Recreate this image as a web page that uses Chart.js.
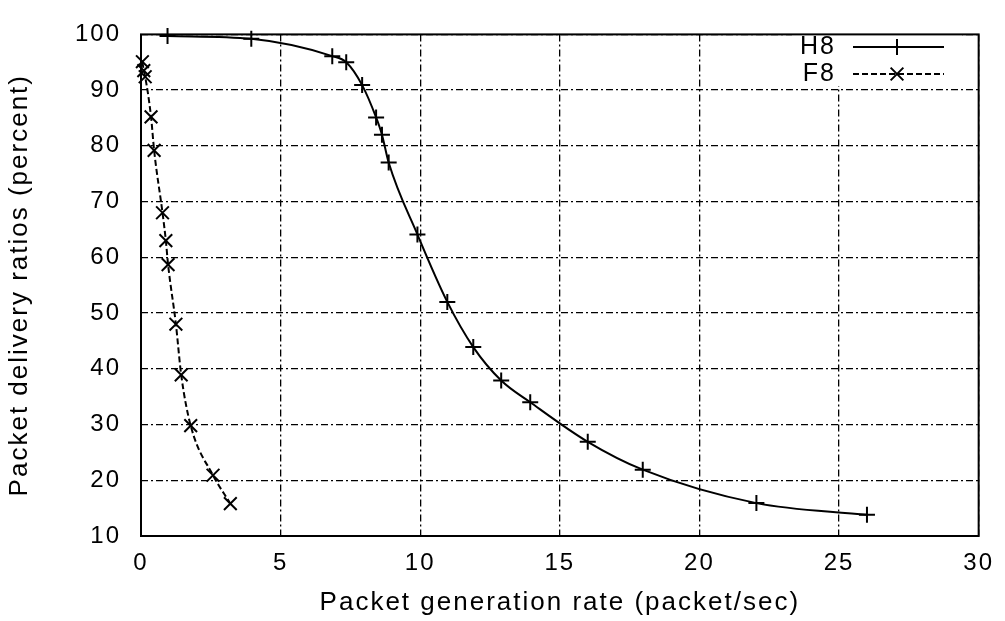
<!DOCTYPE html>
<html>
<head>
  <script src="https://cdn.jsdelivr.net/npm/chart.js"></script>
  <style>
    html, body { margin: 0; padding: 0; background: #fff; }
    #wrap { width: 1005px; height: 621px; }
  </style>
</head>
<body>
  <div id="wrap"><canvas id="myChart"></canvas></div>

  <script>
    // H8 series (packet/sec -> percent)
    const h8Rate = [0.95, 3.95, 6.85, 7.35, 7.92, 8.42, 8.63, 8.87, 9.9, 10.97, 11.9, 12.9, 13.94, 16.0, 17.97, 22.04, 26.0];
    const h8Ratio = [99.7, 99.2, 96.1, 95.0, 90.9, 85.1, 82.0, 77.0, 64.1, 52.0, 43.9, 37.9, 34.0, 26.9, 21.9, 15.9, 13.8];

    // F8 series
    const f8Rate = [0.05, 0.1, 0.15, 0.36, 0.47, 0.77, 0.89, 0.97, 1.25, 1.44, 1.78, 2.58, 3.2];
    const f8Ratio = [95.1, 93.5, 92.4, 85.2, 79.2, 68.0, 63.0, 58.7, 48.0, 38.9, 29.8, 20.9, 15.8];

    const seriesNames = ['H8', 'F8'];
    const xTitle = 'Packet generation rate (packet/sec)';
    const yTitle = 'Packet delivery ratios (percent)';

    const FONT = '"Liberation Sans", Arial, sans-serif';

    const toPoints = (xs, ys) => xs.map((x, i) => ({ x: x, y: ys[i] }));

    // розріджений шрифт, як на скані
    const spacing = {
      id: 'spacing',
      beforeDraw(chart) { chart.ctx.letterSpacing = '2px'; }
    };

    // рамка навколо області графіка
    const frameBox = {
      id: 'frameBox',
      afterDatasetsDraw(chart) {
        const a = chart.chartArea, ctx = chart.ctx;
        ctx.save();
        ctx.strokeStyle = '#000';
        ctx.lineWidth = 2;
        ctx.strokeRect(a.left, a.top, a.right - a.left, a.bottom - a.top);
        ctx.restore();
      }
    };

    // легенда як у gnuplot: текст праворуч вирівняний, зразок лінії справа
    const gnuLegend = {
      id: 'gnuLegend',
      beforeDatasetsDraw(chart) {
        const ctx = chart.ctx;
        ctx.save();
        ctx.fillStyle = '#fff';
        ctx.fillRect(792, 28, 170, 58);
        ctx.restore();
      },
      afterDraw(chart) {
        const ctx = chart.ctx;
        const rows = [47, 74];
        ctx.save();
        chart.data.datasets.forEach((ds, i) => {
          const y = rows[i];
          ctx.fillStyle = '#000';
          ctx.font = '25px ' + FONT;
          ctx.textAlign = 'right';
          ctx.textBaseline = 'middle';
          ctx.fillText(ds.label, 836, y);
          ctx.strokeStyle = '#000';
          ctx.lineWidth = ds.borderWidth;
          ctx.setLineDash(ds.borderDash || []);
          ctx.beginPath();
          ctx.moveTo(853, y);
          ctx.lineTo(944, y);
          ctx.stroke();
          ctx.setLineDash([]);
          Chart.helpers.drawPoint(ctx, {
            pointStyle: ds.pointStyle, rotation: 0, radius: ds.pointRadius, borderWidth: 2
          }, 897, y);
        });
        ctx.restore();
      }
    };

    const ctx = document.getElementById('myChart').getContext('2d');
    new Chart(ctx, {
      type: 'line',
      data: {
        datasets: [{
          label: seriesNames[0],
          data: toPoints(h8Rate, h8Ratio),
          borderColor: '#000',
          backgroundColor: '#000',
          borderWidth: 2,
          pointStyle: 'cross',
          pointRadius: 8,
          pointBorderWidth: 2,
          cubicInterpolationMode: 'monotone',
          clip: false
        }, {
          label: seriesNames[1],
          data: toPoints(f8Rate, f8Ratio),
          borderColor: '#000',
          backgroundColor: '#000',
          borderWidth: 2,
          borderDash: [6, 3],
          pointStyle: 'crossRot',
          pointRadius: 9,
          pointBorderWidth: 2,
          cubicInterpolationMode: 'monotone',
          clip: false
        }]
      },
      options: {
        responsive: true,
        maintainAspectRatio: false,
        animation: false,
        layout: { padding: { top: 25, right: 19, left: 0, bottom: 0 } },
        plugins: {
          legend: { display: false },
          tooltip: { enabled: false }
        },
        scales: {
          x: {
            type: 'linear',
            min: 0, max: 30,
            ticks: { stepSize: 5, color: '#000', font: { family: FONT, size: 24 }, padding: 13 },
            grid: { color: '#000', lineWidth: 1.3, tickLength: 0 },
            border: { display: false, dash: [7, 3, 2, 3] },
            title: { display: true, text: xTitle, color: '#000', font: { family: FONT, size: 26 }, padding: { top: 4, bottom: 3 } },
            afterFit(scale) { scale.height = 85; }
          },
          y: {
            min: 10, max: 100,
            ticks: { stepSize: 10, color: '#000', font: { family: FONT, size: 24 }, padding: 20 },
            grid: { color: '#000', lineWidth: 1.3, tickLength: 0 },
            border: { display: false, dash: [7, 3, 2, 3] },
            title: { display: true, text: yTitle, color: '#000', font: { family: FONT, size: 26 }, padding: { top: 4, bottom: 4 } },
            afterFit(scale) { scale.width = 141; }
          }
        }
      },
      plugins: [spacing, gnuLegend, frameBox]
    });
  </script>
</body>
</html>
